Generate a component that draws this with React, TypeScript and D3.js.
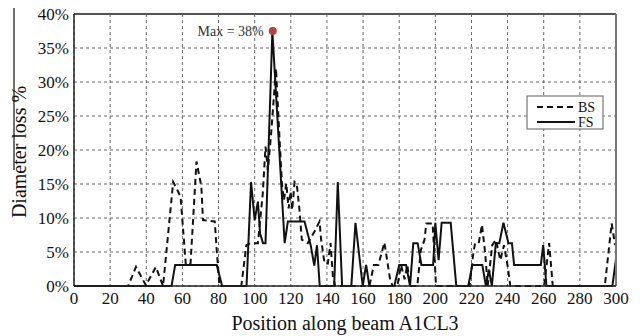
import React from "react";
import * as d3 from "d3";

const xTicks = [0, 20, 40, 60, 80, 100, 120, 140, 160, 180, 200, 220, 240, 260, 280, 300];
const yTicks = [0, 5, 10, 15, 20, 25, 30, 35, 40];

const fsPos = [0, 54, 56, 79, 82, 95.5, 98, 100, 101.8, 103, 104.6, 106, 109.8, 116.6, 118.4, 127.6, 131, 133, 134.5, 136, 144, 146, 148.4, 153.5, 155.8, 159.8, 161.7, 163.5, 177.3, 180, 183.8, 186, 187.8, 190.2, 192.3, 198.8, 200, 201.8, 203.5, 208.5, 211.6, 218.2, 220.5, 226, 228, 229.6, 231.3, 233.5, 235.4, 237.7, 240.5, 242.4, 243.6, 258.4, 259.7, 261.5, 298, 300];
const fsVal = [0, 0, 3.1, 3.1, 0, 0, 15.3, 9.7, 12.4, 7.7, 6.3, 6.3, 37.5, 6.3, 9.5, 9.5, 6, 3, 6, 0, 0, 15.3, 0, 0, 9.3, 0, 3.1, 0, 0, 3.1, 3.1, 0, 6.3, 6.3, 3.1, 3.1, 9.3, 3.8, 9.3, 9.3, 0, 0, 3.1, 3.1, 0, 2.4, 0, 6.3, 6.3, 9.3, 6.3, 6.3, 3.1, 3.1, 6, 0, 0, 4];

const bsPos = [0, 30, 34.3, 39.8, 45.3, 49.3, 54.9, 57.6, 59, 61.9, 64.5, 67.8, 70.5, 71.4, 77.9, 78.8, 80.5, 92.6, 95.4, 97.7, 101.8, 104.5, 106, 107.3, 109, 111.8, 113.8, 115.1, 116.2, 117.5, 118.8, 119.9, 120.8, 122.1, 123.3, 124.9, 126.1, 129.4, 133.5, 135.9, 136.8, 138.7, 140.5, 142, 143.3, 144.6, 163.5, 166, 168.5, 171.8, 175, 176.4, 179, 181, 183, 184.5, 186, 190, 192, 194, 195, 198.5, 200.4, 219, 221, 222, 224, 225.8, 227.6, 229, 231.5, 233.5, 236, 238, 240, 241.5, 260.2, 263, 265, 293.8, 297.6, 299.5];
const bsVal = [0, 0, 2.8, 0.1, 2.8, 0, 15.3, 13.9, 13.1, 3.1, 3.3, 18.3, 14.6, 9.7, 9.5, 6, 0, 0, 6, 6.3, 6.3, 13.6, 20.5, 17, 22, 32, 21.5, 15.1, 12.6, 15.1, 11.4, 13.9, 11.2, 15.3, 15, 10.9, 6.8, 6.3, 8.2, 9.5, 6.8, 3.3, 3.3, 6.3, 1.4, 0, 0, 3.1, 3.1, 6.4, 0.9, 0, 0, 3.1, 1, 3.1, 0, 0, 5.3, 6.8, 9.2, 9.2, 0, 0, 4.8, 6.3, 6.3, 9, 4.8, 0, 6, 6.8, 3.8, 6, 3, 0, 0, 6.3, 0, 0, 9.2, 6];

const maxPos = 110;
const maxVal = 37.5;
const maxLabel = "Max = 38%";
const seriesNames = ["BS", "FS"];

export default function App() {
  const W = 640, H = 336;
  const left = 74, right = 616, top = 14, bottom = 286;
  const x = d3.scaleLinear().domain([0, 300]).range([left, right]);
  const y = d3.scaleLinear().domain([0, 40]).range([bottom, top]);
  const line = d3.line<[number, number]>().x(d => x(d[0])).y(d => y(d[1]));
  const fs = fsPos.map((p, i) => [p, fsVal[i]] as [number, number]);
  const bs = bsPos.map((p, i) => [p, bsVal[i]] as [number, number]);
  const font = "'Liberation Serif', 'Times New Roman', serif";
  return (
    <svg width={W} height={H} style={{ position: "absolute", left: 0, top: 0, background: "#fff" }} fontFamily={font}>
      <rect x={0} y={0} width={W} height={H} fill="#fff" />
      {xTicks.map(t => (
        <line key={"gx" + t} x1={x(t)} x2={x(t)} y1={top} y2={bottom} stroke="#666" strokeWidth={1} strokeDasharray="3,3" />
      ))}
      {yTicks.map(t => (
        <line key={"gy" + t} x1={left} x2={right} y1={y(t)} y2={y(t)} stroke="#666" strokeWidth={1} strokeDasharray="3,3" />
      ))}
      <path d={line(bs) || ""} fill="none" stroke="#111" strokeWidth={2} strokeDasharray="6,4" />
      <path d={line(fs) || ""} fill="none" stroke="#111" strokeWidth={2} />
      <line x1={left} x2={right} y1={top} y2={top} stroke="#555" strokeWidth={2} />
      <line x1={right} x2={right} y1={top} y2={bottom} stroke="#777" strokeWidth={2} />
      <line x1={left} x2={left} y1={top} y2={bottom} stroke="#222" strokeWidth={1.5} />
      <line x1={left} x2={right} y1={bottom} y2={bottom} stroke="#222" strokeWidth={1.5} />
      <circle cx={x(maxPos)} cy={y(maxVal)} r={4} fill="#b5443f" />
      <text x={x(maxPos) - 9} y={y(maxVal) + 5} textAnchor="end" fontSize={14} fill="#333">{maxLabel}</text>
      {yTicks.map(t => (
        <text key={"yt" + t} x={left - 5} y={y(t) + 6} textAnchor="end" fontSize={17} fill="#111">{t + "%"}</text>
      ))}
      {xTicks.map(t => (
        <text key={"xt" + t} x={x(t)} y={bottom + 18} textAnchor="middle" fontSize={17} fill="#111">{t}</text>
      ))}
      <text x={(left + right) / 2} y={330} textAnchor="middle" fontSize={20} fill="#111">Position along beam A1CL3</text>
      <text transform={`translate(26,152) rotate(-90)`} textAnchor="middle" fontSize={20} fill="#111">Diameter loss %</text>
      <line x1={14} x2={14} y1={8} y2={170} stroke="#111" strokeWidth={1.2} />
      <g>
        <rect x={527} y={96} width={76} height={33} fill="#fff" stroke="#777" strokeWidth={1.2} />
        <line x1={537} x2={575} y1={107} y2={107} stroke="#111" strokeWidth={2} strokeDasharray="6,4" />
        <text x={578} y={112} fontSize={14} fill="#111">{seriesNames[0]}</text>
        <line x1={537} x2={575} y1={122} y2={122} stroke="#111" strokeWidth={2} />
        <text x={578} y={127} fontSize={14} fill="#111">{seriesNames[1]}</text>
      </g>
    </svg>
  );
}
